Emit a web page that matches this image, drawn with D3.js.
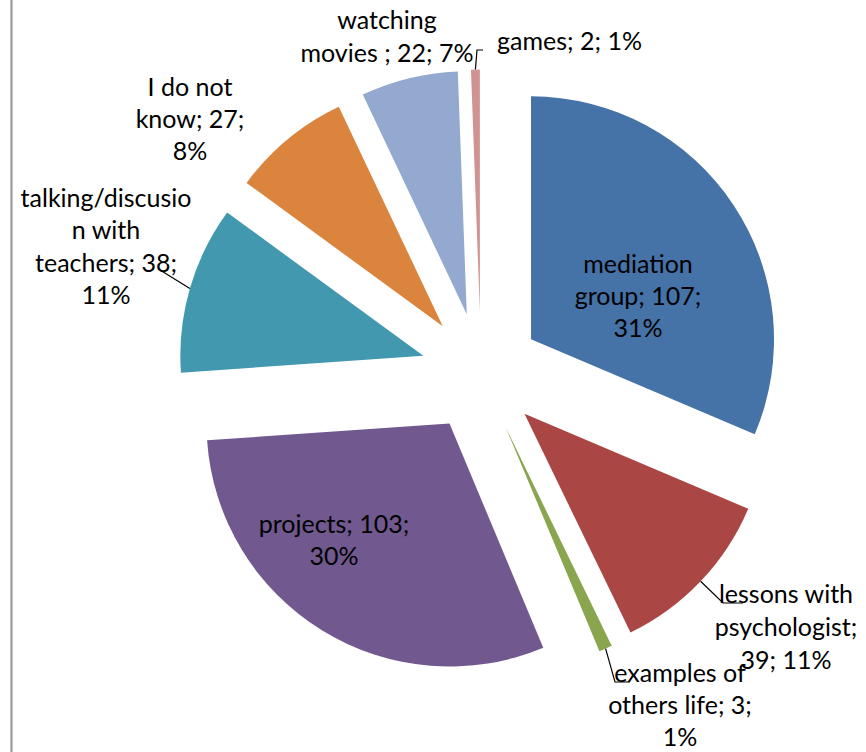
<!DOCTYPE html>
<html>
<head>
<meta charset="utf-8">
<script src="https://cdn.jsdelivr.net/npm/d3@7"></script>
<style>
  html, body { margin: 0; padding: 0; background: #fff; }
  svg { display: block; }
</style>
</head>
<body>
<svg id="chart" width="866" height="752"></svg>
<script>
// ---------- data ----------
const categories = ["mediation group", "lessons with psychologist", "examples of others life",
  "projects", "talking/discusion with teachers", "I do not know", "watching movies ", "games"];
const values = [107, 39, 3, 103, 38, 27, 22, 2];
const percentLabels = ["31%", "11%", "1%", "30%", "11%", "8%", "7%", "1%"];
const colors = ["#4572A7", "#AA4643", "#89A54E", "#71588F", "#4198AF", "#DB843D", "#93A9CF", "#D19392"];
// label text as wrapped in the picture
const labelLines = [
  ["mediation", "group; 107;", "31%"],
  ["lessons with", "psychologist;", "39; 11%"],
  ["examples of", "others life; 3;", "1%"],
  ["projects; 103;", "30%"],
  ["talking/discusio", "n with", "teachers; 38;", "11%"],
  ["I do not", "know; 27;", "8%"],
  ["watching", "movies ; 22; 7%"],
  ["games; 2; 1%"]
];

// ---------- layout ----------
const W = 866, H = 752;
const cx = 481, cy = 372.5, R = 243, explode = 60;
const fontSize = 25, lineH = 32.5;
// label anchors relative to pie centre: [dx, dy of first baseline, anchor, line height]
const labelPos = [
  [157, -100, "middle", 32],
  [305, 230.5, "middle", 33],
  [199, 309, "middle", 32],
  [-147, 160.5, "middle", 31.5],
  [-375, -165.5, "middle", 32.3],
  [-291, -276.5, "middle", 32],
  [-94, -343.5, "middle", 33],
  [16, -322.5, "start", 32]
];
// leader line extra points relative to centre (null = no leader)
const leaderPts = [
  null,
  [[242, 230.5], [262, 230.5]],
  [[134, 309.5], [149, 309.5]],
  null,
  [[-321, -102.5]],
  null,
  null,
  [[-4, -322.5], [2, -322.5]]
];

const svg = d3.select("#chart");
svg.append("rect").attr("width", W).attr("height", H).attr("fill", "#fff");
svg.append("line").attr("x1", 11.5).attr("x2", 11.5).attr("y1", 0).attr("y2", H)
  .attr("stroke", "#9a9a9a").attr("stroke-width", 2.2);

const pie = d3.pie().sort(null).value(d => d)(values);
const arc = d3.arc().innerRadius(0).outerRadius(R);

const g = svg.append("g").attr("transform", `translate(${cx},${cy})`);

const mid = d => (d.startAngle + d.endAngle) / 2;
const off = d => [explode * Math.sin(mid(d)), -explode * Math.cos(mid(d))];

g.selectAll("path.slice").data(pie).join("path")
  .attr("class", "slice")
  .attr("d", arc)
  .attr("fill", (d, i) => colors[i])
  .attr("transform", d => { const o = off(d); return `translate(${o[0]},${o[1]})`; });

// leader lines
g.selectAll("path.leader").data(pie.filter((d, i) => leaderPts[i])).join("path")
  .attr("class", "leader")
  .attr("fill", "none").attr("stroke", "#000").attr("stroke-width", 1.2)
  .attr("d", d => {
    const o = off(d), a = mid(d);
    const p0 = [o[0] + R * Math.sin(a), o[1] - R * Math.cos(a)];
    return d3.line()([p0, ...leaderPts[d.index]]);
  });

// labels
const fontFamily = "Lato, 'Open Sans', sans-serif";
pie.forEach((d, i) => {
  const [dx, dy, anchor, lh] = labelPos[i];
  const t = g.append("text")
    .attr("x", dx).attr("y", dy)
    .attr("text-anchor", anchor)
    .attr("font-family", fontFamily)
    .attr("font-size", fontSize)
    .attr("fill", "#000");
  labelLines[i].forEach((line, k) => {
    t.append("tspan").attr("x", dx).attr("y", dy + k * lh).text(line);
  });
});
</script>
</body>
</html>
